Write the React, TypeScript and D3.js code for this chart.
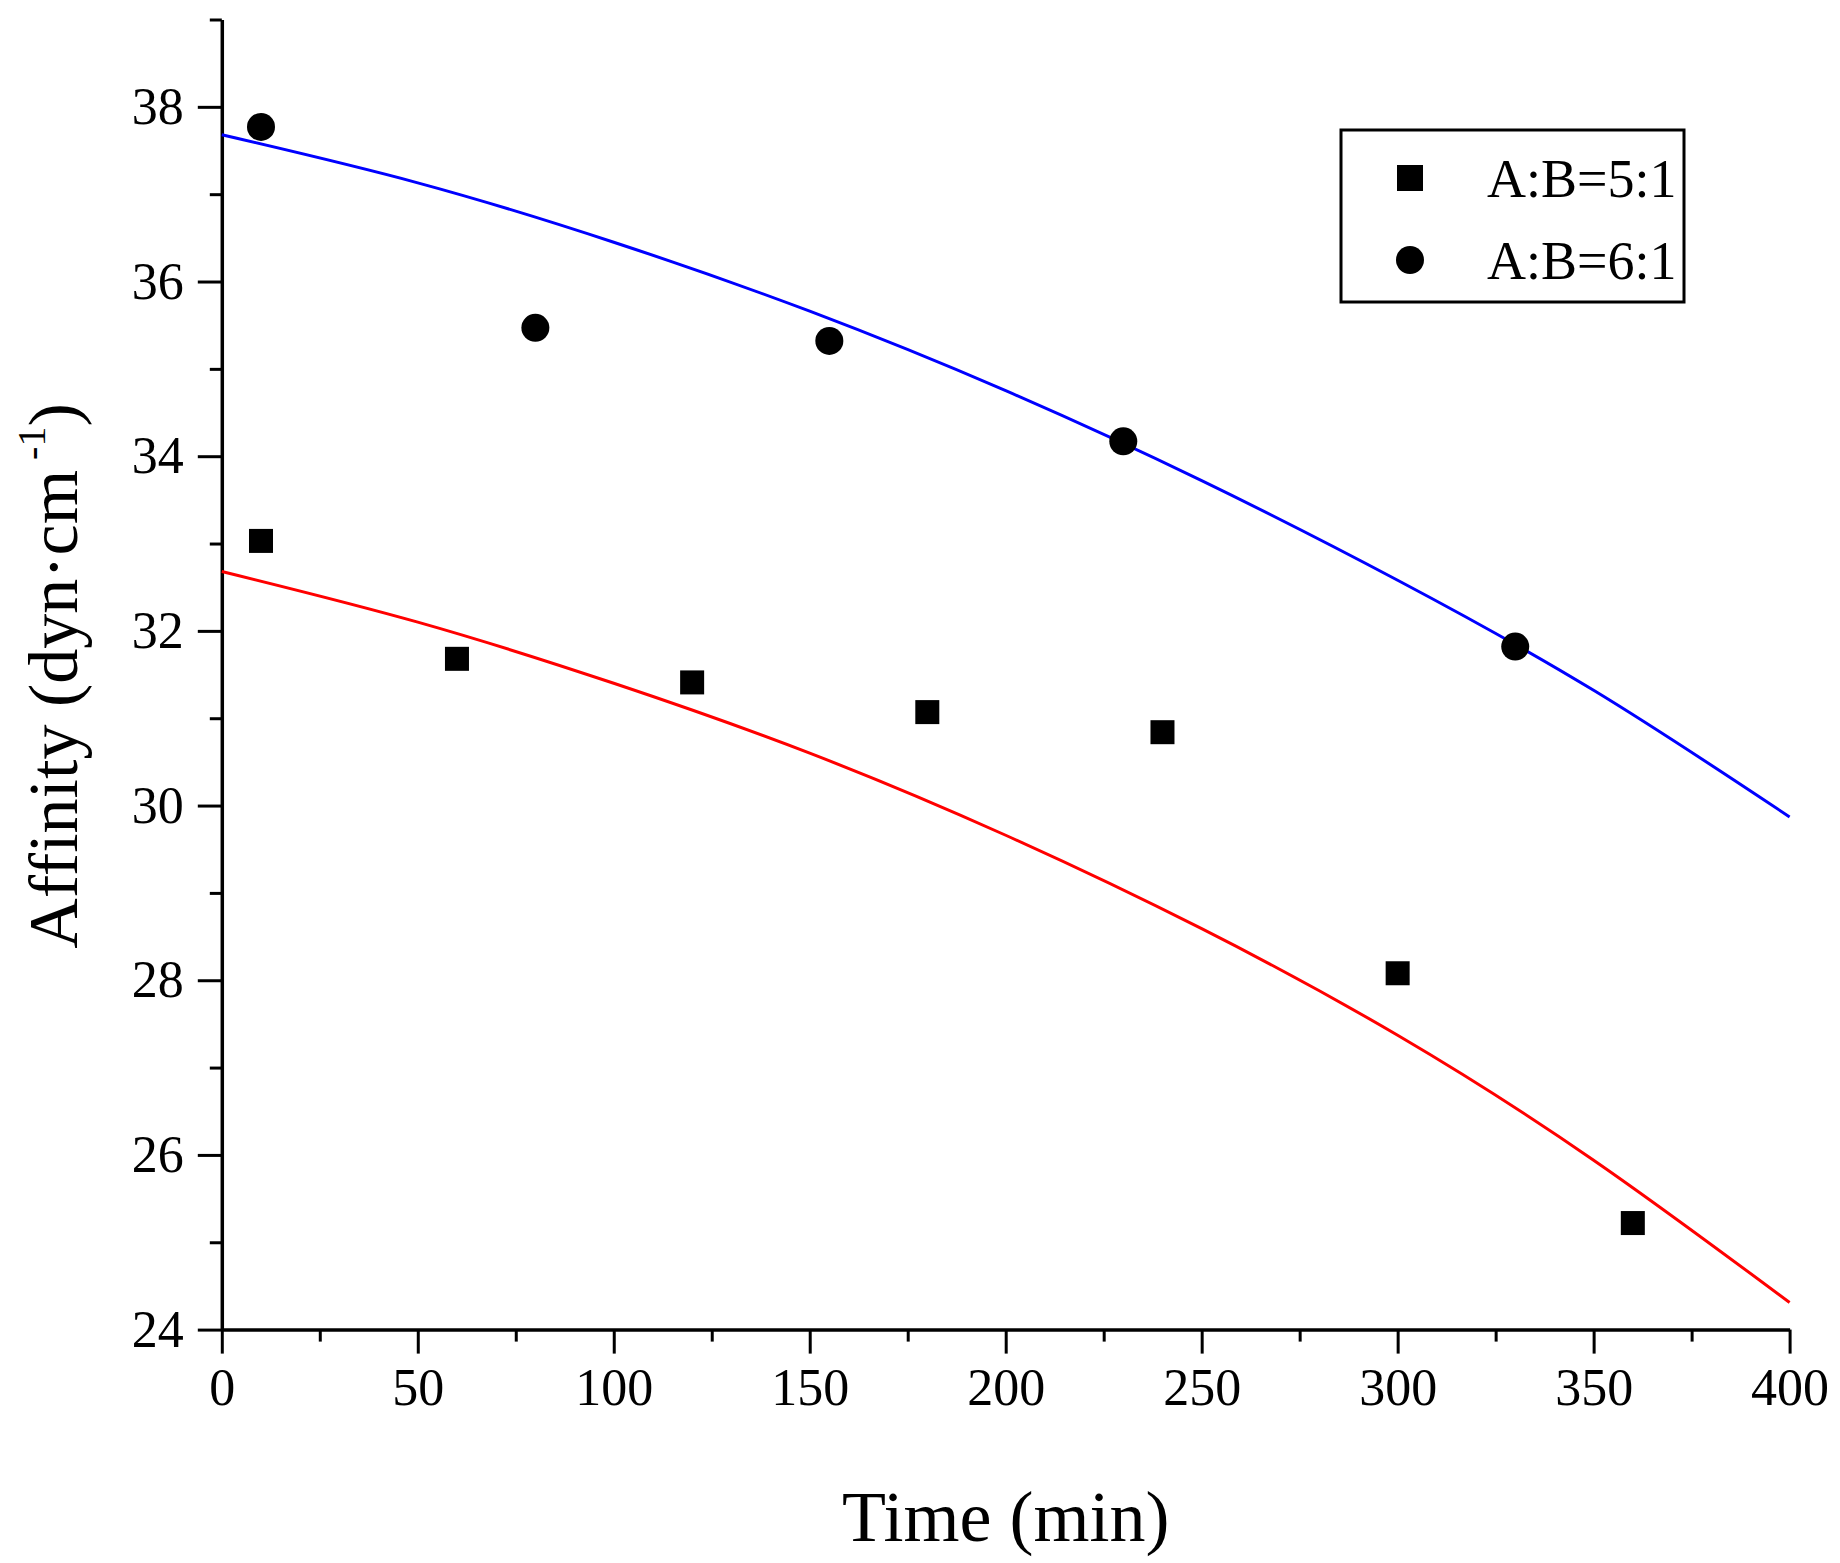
import { useRef, useEffect } from 'react';
import * as d3 from 'd3';

// measured points
const TIME_51 = [10, 60, 120, 180, 240, 300, 360];
const AFF_51 = [33.03, 31.68, 31.41, 31.07, 30.84, 28.08, 25.22];
const TIME_61 = [10, 80, 155, 230, 330];
const AFF_61 = [37.77, 35.47, 35.32, 34.17, 31.82];

// fitted curves
const FIT_X = [0, 50, 100, 150, 200, 250, 300, 350, 400];
const FIT_51 = [32.68, 32.1, 31.4, 30.6, 29.66, 28.59, 27.37, 25.94, 24.31];
const FIT_61 = [37.68, 37.13, 36.45, 35.66, 34.75, 33.72, 32.58, 31.32, 29.87];

const X_TICKS = [0, 50, 100, 150, 200, 250, 300, 350, 400];
const X_MINOR = [25, 75, 125, 175, 225, 275, 325, 375];
const Y_TICKS = [24, 26, 28, 30, 32, 34, 36, 38];
const Y_MINOR = [25, 27, 29, 31, 33, 35, 37, 39];

const LEGEND = [
  { label: 'A:B=5:1', shape: 'square' },
  { label: 'A:B=6:1', shape: 'circle' },
];

const FONT = '"Liberation Serif", "Times New Roman", serif';

export default function App() {
  const svgRef = useRef<SVGSVGElement>(null);

  useEffect(() => {
    if (!svgRef.current) return;
    const svg = d3.select(svgRef.current);
    svg.selectAll('*').remove();

    const W = 1840;
    const H = 1563;
    svg.attr('width', W).attr('height', H);
    svg.append('rect').attr('width', W).attr('height', H).attr('fill', '#fff');

    const x = d3.scaleLinear().domain([0, 400]).range([221.8, 1789.6]);
    const y = d3.scaleLinear().domain([24, 39]).range([1329.6, 19.5]);

    // Minor ticks
    const xMinor = svg
      .append('g')
      .attr('transform', `translate(0,${y(24)})`)
      .call(d3.axisBottom(x).tickValues(X_MINOR).tickSize(12).tickSizeOuter(0).tickFormat(() => ''));
    const yMinor = svg
      .append('g')
      .attr('transform', `translate(${x(0)},0)`)
      .call(d3.axisLeft(y).tickValues(Y_MINOR).tickSize(12).tickSizeOuter(0).tickFormat(() => ''));
    [xMinor, yMinor].forEach((a) => {
      a.select('.domain').remove();
      a.selectAll('.tick line').attr('stroke', '#000').attr('stroke-width', 3);
    });

    // Major axes
    const xAxisG = svg
      .append('g')
      .attr('transform', `translate(0,${y(24)})`)
      .call(d3.axisBottom(x).tickValues(X_TICKS).tickSize(24).tickSizeOuter(0).tickPadding(14));
    const yAxisG = svg
      .append('g')
      .attr('transform', `translate(${x(0)},0)`)
      .call(d3.axisLeft(y).tickValues(Y_TICKS).tickSize(24).tickSizeOuter(0).tickPadding(14));
    [xAxisG, yAxisG].forEach((a) => {
      a.select('.domain').attr('stroke', '#000').attr('stroke-width', 3.5);
      a.selectAll('.tick line').attr('stroke', '#000').attr('stroke-width', 3);
      a.selectAll('text')
        .attr('fill', '#000')
        .attr('font-family', FONT)
        .attr('font-size', 52);
    });

    // Fit curves
    const line = d3
      .line<number>()
      .x((_d, i) => x(FIT_X[i]))
      .y((d) => y(d))
      .curve(d3.curveNatural);
    svg.append('path').datum(FIT_61).attr('fill', 'none').attr('stroke', '#0000ff').attr('stroke-width', 3).attr('d', line);
    svg.append('path').datum(FIT_51).attr('fill', 'none').attr('stroke', '#ff0000').attr('stroke-width', 3).attr('d', line);

    // Points
    const sq = 24;
    svg
      .append('g')
      .selectAll('rect')
      .data(AFF_51)
      .join('rect')
      .attr('x', (_d, i) => x(TIME_51[i]) - sq / 2)
      .attr('y', (d) => y(d) - sq / 2)
      .attr('width', sq)
      .attr('height', sq)
      .attr('fill', '#000');
    svg
      .append('g')
      .selectAll('circle')
      .data(AFF_61)
      .join('circle')
      .attr('cx', (_d, i) => x(TIME_61[i]))
      .attr('cy', (d) => y(d))
      .attr('r', 14)
      .attr('fill', '#000');

    // Axis titles
    svg
      .append('text')
      .attr('x', (x(0) + x(400)) / 2)
      .attr('y', 1541)
      .attr('text-anchor', 'middle')
      .attr('font-family', FONT)
      .attr('font-size', 72)
      .attr('fill', '#000')
      .text('Time (min)');

    const yt = svg
      .append('text')
      .attr('transform', `translate(77,676) rotate(-90)`)
      .attr('text-anchor', 'middle')
      .attr('font-family', FONT)
      .attr('font-size', 70)
      .attr('fill', '#000');
    yt.append('tspan').text('Affinity (dyn·cm');
    yt.append('tspan').attr('font-size', 40).attr('dy', -32).text(' -1');
    yt.append('tspan').attr('dy', 32).text(')');

    // Legend
    const lg = svg.append('g');
    lg.append('rect')
      .attr('x', 1341)
      .attr('y', 130)
      .attr('width', 343)
      .attr('height', 172)
      .attr('fill', '#fff')
      .attr('stroke', '#000')
      .attr('stroke-width', 3);
    LEGEND.forEach((item, i) => {
      const cy = 178 + i * 82;
      if (item.shape === 'square') {
        lg.append('rect').attr('x', 1410 - 13).attr('y', cy - 13).attr('width', 26).attr('height', 26).attr('fill', '#000');
      } else {
        lg.append('circle').attr('cx', 1410).attr('cy', cy).attr('r', 14).attr('fill', '#000');
      }
      lg.append('text')
        .attr('x', 1487)
        .attr('y', cy + 19)
        .attr('font-family', FONT)
        .attr('font-size', 54)
        .attr('fill', '#000')
        .text(item.label);
    });
  }, []);

  return (
    <div style={{ position: 'absolute', left: 0, top: 0 }}>
      <svg ref={svgRef} style={{ display: 'block' }} />
    </div>
  );
}
